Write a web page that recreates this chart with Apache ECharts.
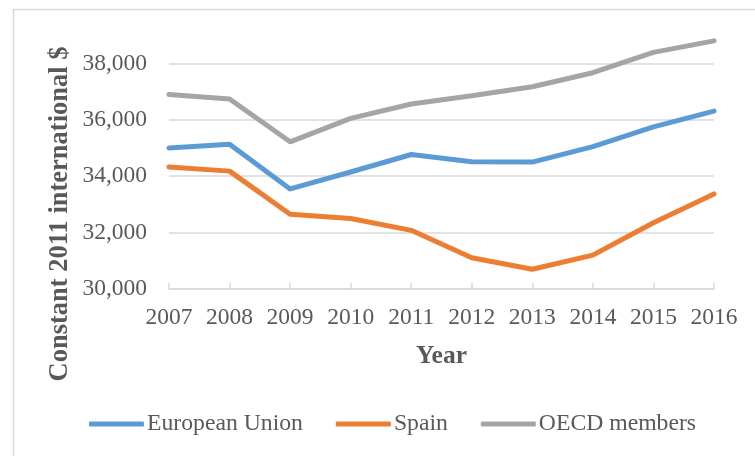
<!DOCTYPE html>
<html>
<head>
<meta charset="utf-8">
<script src="https://cdn.jsdelivr.net/npm/echarts@6/dist/echarts.min.js"></script>
<style>
html,body{margin:0;padding:0;background:#fff;}
#chart{width:755px;height:456px;}
</style>
</head>
<body>
<div id="chart"></div>
<script>
const years = ['2007','2008','2009','2010','2011','2012','2013','2014','2015','2016'];
const euValues = [35000, 35130, 33550, 34150, 34770, 34510, 34500, 35050, 35750, 36310];
const spainValues = [34330, 34180, 32650, 32500, 32080, 31110, 30700, 31200, 32350, 33370];
const oecdValues = [36900, 36740, 35220, 36050, 36560, 36850, 37170, 37670, 38390, 38800];
const seriesNames = ['European Union', 'Spain', 'OECD members'];
const yTitle = 'Constant 2011 international $';
const xTitle = 'Year';

const FONT = '"Liberation Serif", "Times New Roman", serif';
const TXT = '#595959';
const chart = echarts.init(document.getElementById('chart'), null, {renderer: 'canvas'});
const mk = (name, data, color) => ({
  name, type: 'line', data, showSymbol: false, symbol: 'none',
  lineStyle: {width: 5, color, join: 'round', cap: 'round'},
  itemStyle: {color}, animation: false
});
chart.setOption({
  backgroundColor: '#fff',
  animation: false,
  grid: {left: 169, right: 41, top: 7, bottom: 167},
  xAxis: {
    type: 'category', data: years, boundaryGap: false,
    axisLine: {lineStyle: {color: '#d9d9d9', width: 1.5}},
    axisTick: {show: true, inside: true, interval: 0, length: 6, lineStyle: {color: '#d9d9d9', width: 1.5}},
    axisLabel: {color: TXT, fontFamily: FONT, fontSize: 23.5, margin: 17, interval: 0, hideOverlap: false},
    name: xTitle, nameLocation: 'middle', nameGap: 54,
    nameTextStyle: {color: TXT, fontFamily: FONT, fontSize: 25.5, fontWeight: 'bold'}
  },
  yAxis: {
    type: 'value', min: 30000, max: 40000, interval: 2000,
    axisLine: {show: false}, axisTick: {show: false},
    splitLine: {show: true, showMaxLine: false, lineStyle: {color: '#d9d9d9', width: 1.5}},
    axisLabel: {color: TXT, fontFamily: FONT, fontSize: 23.5, margin: 22, showMaxLabel: false,
      formatter: v => v.toLocaleString('en-US')}
  },
  legend: {
    bottom: 15, left: 84, itemWidth: 55, itemHeight: 5, itemGap: 33,
    icon: 'roundRect',
    textStyle: {color: TXT, fontFamily: FONT, fontSize: 23.7, padding: [0,0,0,-2]},
    data: seriesNames
  },
  graphic: [
    {type: 'rect', left: 11, top: 7, shape: {width: 800, height: 500},
     style: {fill: 'none', stroke: '#d9d9d9', lineWidth: 1.5}, z: -1, silent: true},
    {type: 'text', x: 60, y: 214, rotation: Math.PI/2,
     style: {text: yTitle, fill: TXT, font: 'bold 26.5px ' + FONT, align: 'center', verticalAlign: 'middle'}}
  ],
  series: [
    mk(seriesNames[0], euValues, '#5B9BD5'),
    mk(seriesNames[1], spainValues, '#ED7D31'),
    mk(seriesNames[2], oecdValues, '#A5A5A5')
  ]
});
</script>
</body>
</html>
